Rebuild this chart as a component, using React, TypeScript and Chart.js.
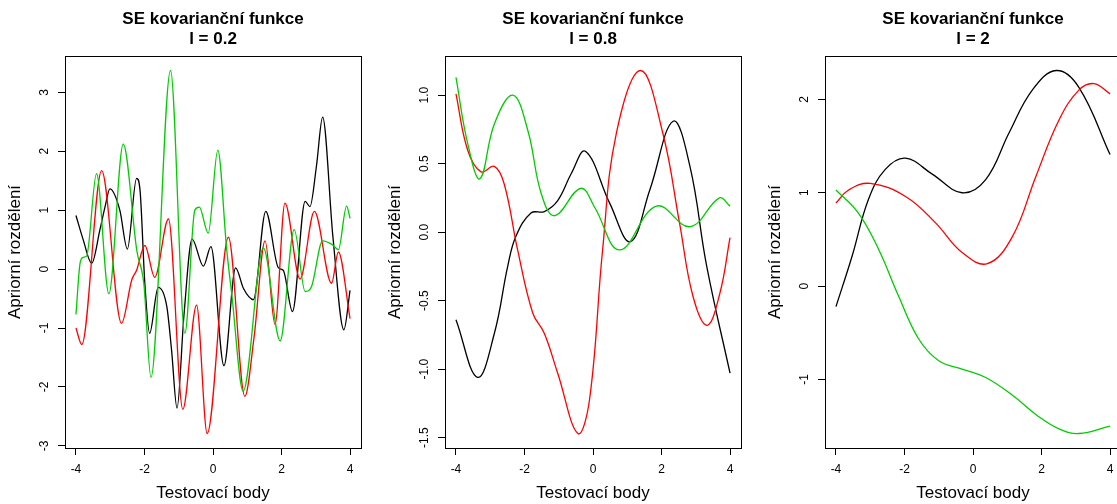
import React, { useEffect, useRef } from "react";
import { Chart, registerables } from "chart.js";

Chart.register(...registerables);

const FONT = "'Liberation Sans', Arial, Helvetica, sans-serif";
const TITLE_MAIN = "SE kovarianční funkce";
const X_TITLE = "Testovací body";
const Y_TITLE = "Apriorní rozdělení";
const X_TICKS = [-4, -2, 0, 2, 4];
const COL_BLACK = "#000000";
const COL_RED = "#FF0000";
const COL_GREEN = "#00CD00";

// ---- Panel 1: l = 0.2 ----
const P1_LABEL = "l = 0.2";
const P1_Y_TICKS = [-3, -2, -1, 0, 1, 2, 3];
const P1_BLACK_X = [-4.0, -3.79, -3.54, -3.3, -3.15, -3.01, -2.72, -2.5, -2.23, -2.13, -1.99, -1.85, -1.6, -1.35, -1.21, -1.05, -0.85, -0.61, -0.28, -0.06, 0.32, 0.66, 0.89, 1.18, 1.54, 1.91, 2.05, 2.32, 2.69, 2.83, 3.02, 3.2, 3.5, 3.82, 4.0];
const P1_BLACK_Y = [0.91, 0.5, 0.1, 0.67, 1.06, 1.36, 1.0, 0.34, 1.54, 1.34, -0.24, -1.09, -0.31, -0.63, -1.37, -2.36, -0.8, 0.51, 0.05, 0.38, -1.64, 0.02, -0.33, -0.52, 0.98, 0.02, -0.02, -0.72, 1.15, 1.06, 1.75, 2.58, 0.55, -1.03, -0.36];
const P1_RED_X = [-4.0, -3.83, -3.25, -2.67, -2.37, -2.23, -1.99, -1.7, -1.3, -0.88, -0.48, -0.17, 0.45, 0.93, 1.2, 1.52, 1.81, 2.1, 2.54, 2.96, 3.46, 3.66, 4.0];
const P1_RED_Y = [-1.0, -1.28, 1.67, -0.92, -0.18, -0.02, 0.4, -0.14, 0.85, -2.38, -0.61, -2.79, 0.54, -2.16, -1.15, 0.48, -0.94, 1.12, -0.17, 0.98, -0.24, 0.29, -0.84];
const P1_GREEN_X = [-4.0, -3.88, -3.79, -3.69, -3.4, -3.04, -2.62, -2.22, -2.02, -1.81, -1.24, -0.82, -0.53, -0.4, -0.14, 0.14, 0.4, 0.55, 0.88, 1.47, 1.96, 2.37, 2.69, 2.88, 3.2, 3.47, 3.66, 3.9, 4.0];
const P1_GREEN_Y = [-0.77, 0.1, 0.2, 0.22, 1.62, -0.42, 2.12, 0.3, -0.24, -1.84, 3.37, -1.09, 1.0, 1.05, 0.61, 2.02, 0.33, -0.44, -2.07, 0.36, -1.22, 0.67, -0.38, -0.29, 0.48, 0.42, 0.33, 1.07, 0.86];

// ---- Panel 2: l = 0.8 ----
const P2_LABEL = "l = 0.8";
const P2_Y_TICKS = [-1.5, -1.0, -0.5, 0.0, 0.5, 1.0];
const P2_BLACK_X = [-4.0, -3.37, -2.88, -2.49, -2.25, -1.81, -1.42, -1.03, -0.63, -0.22, 0.49, 1.09, 1.66, 2.34, 2.83, 3.32, 4.0];
const P2_BLACK_Y = [-0.64, -1.06, -0.74, -0.25, -0.03, 0.14, 0.15, 0.23, 0.43, 0.59, 0.21, -0.07, 0.31, 0.81, 0.48, -0.25, -1.03];
const P2_RED_X = [-4.0, -3.66, -3.27, -2.88, -2.59, -2.2, -1.76, -1.42, -1.03, -0.44, -0.1, 0.28, 0.68, 1.39, 2.04, 2.53, 2.92, 3.33, 3.7, 4.0];
const P2_RED_Y = [1.01, 0.6, 0.44, 0.48, 0.35, -0.13, -0.59, -0.74, -1.03, -1.47, -1.22, -0.13, 0.72, 1.18, 0.72, 0.06, -0.47, -0.68, -0.45, -0.04];
const P2_GREEN_X = [-4.0, -3.66, -3.3, -2.88, -2.34, -1.9, -1.51, -1.12, -0.36, 0.05, 0.78, 1.85, 2.83, 3.69, 4.0];
const P2_GREEN_Y = [1.13, 0.65, 0.39, 0.79, 1.0, 0.74, 0.28, 0.12, 0.32, 0.18, -0.13, 0.19, 0.04, 0.25, 0.19];

// ---- Panel 3: l = 2 ----
const P3_LABEL = "l = 2";
const P3_Y_TICKS = [-1, 0, 1, 2];
const P3_BLACK_X = [-4.0, -3.53, -3.05, -2.56, -1.97, -1.19, -0.32, 0.37, 1.05, 1.73, 2.43, 3.09, 4.0];
const P3_BLACK_Y = [-0.22, 0.32, 0.93, 1.25, 1.37, 1.2, 1.0, 1.14, 1.64, 2.1, 2.31, 2.13, 1.41];
const P3_RED_X = [-4.0, -3.63, -3.0, -1.97, -1.1, -0.32, 0.42, 1.15, 1.83, 2.51, 3.09, 3.53, 4.0];
const P3_RED_Y = [0.89, 1.03, 1.1, 0.96, 0.68, 0.36, 0.24, 0.53, 1.17, 1.78, 2.1, 2.17, 2.06];
const P3_GREEN_X = [-4.0, -3.34, -2.75, -2.17, -1.58, -1.0, -0.32, 0.37, 1.15, 1.92, 2.51, 3.09, 4.0];
const P3_GREEN_Y = [1.03, 0.78, 0.39, -0.11, -0.57, -0.8, -0.89, -0.98, -1.17, -1.4, -1.53, -1.58, -1.5];

type Series = { xs: number[]; ys: number[]; color: string; order: number };
type PanelCfg = { label: string; yTicks: number[]; decimals: number; smooth: "monotone" | "default"; series: Series[] };

const PANELS: PanelCfg[] = [
  {
    label: P1_LABEL, yTicks: P1_Y_TICKS, decimals: 0, smooth: "monotone",
    series: [
      { xs: P1_BLACK_X, ys: P1_BLACK_Y, color: COL_BLACK, order: 2 },
      { xs: P1_RED_X, ys: P1_RED_Y, color: COL_RED, order: 1 },
      { xs: P1_GREEN_X, ys: P1_GREEN_Y, color: COL_GREEN, order: 0 },
    ],
  },
  {
    label: P2_LABEL, yTicks: P2_Y_TICKS, decimals: 1, smooth: "default",
    series: [
      { xs: P2_BLACK_X, ys: P2_BLACK_Y, color: COL_BLACK, order: 2 },
      { xs: P2_RED_X, ys: P2_RED_Y, color: COL_RED, order: 1 },
      { xs: P2_GREEN_X, ys: P2_GREEN_Y, color: COL_GREEN, order: 0 },
    ],
  },
  {
    label: P3_LABEL, yTicks: P3_Y_TICKS, decimals: 0, smooth: "default",
    series: [
      { xs: P3_BLACK_X, ys: P3_BLACK_Y, color: COL_BLACK, order: 2 },
      { xs: P3_RED_X, ys: P3_RED_Y, color: COL_RED, order: 1 },
      { xs: P3_GREEN_X, ys: P3_GREEN_Y, color: COL_GREEN, order: 0 },
    ],
  },
];

const CANVAS_W = 380;
const CANVAS_H = 504;

const boxPlugin = {
  id: "rbox",
  afterDraw(chart: any) {
    const { ctx, chartArea: a } = chart;
    ctx.save();
    ctx.strokeStyle = "#000";
    ctx.lineWidth = 1;
    ctx.strokeRect(a.left + 0.5, a.top + 0.5, a.right - a.left, a.bottom - a.top);
    ctx.restore();
  },
};

function expand(vals: number[]): [number, number] {
  const mn = Math.min(...vals);
  const mx = Math.max(...vals);
  const d = (mx - mn) * 0.04;
  return [mn - d, mx + d];
}

function Panel({ cfg }: { cfg: PanelCfg }) {
  const ref = useRef<HTMLCanvasElement | null>(null);
  useEffect(() => {
    if (!ref.current) return;
    const allX = cfg.series.flatMap((s) => s.xs);
    const allY = cfg.series.flatMap((s) => s.ys);
    const [xmin, xmax] = expand(allX);
    const [ymin, ymax] = expand(allY);
    const fmt = (v: number) => Number(v).toFixed(cfg.decimals);

    const mc = document.createElement("canvas").getContext("2d")!;
    mc.font = `12px ${FONT}`;
    const widest = Math.max(...cfg.yTicks.map((v) => mc.measureText(fmt(v)).width));
    const yPad = 13 - widest / 2;

    const tickGrid = {
      display: true,
      drawOnChartArea: false,
      drawTicks: true,
      tickLength: 7,
      tickColor: "#000",
      tickWidth: 1,
    };

    const chart = new Chart(ref.current, {
      type: "line",
      data: {
        datasets: cfg.series.map((s) => ({
          data: s.xs.map((x, i) => ({ x, y: s.ys[i] })),
          borderColor: s.color,
          backgroundColor: s.color,
          borderWidth: 1.3,
          pointRadius: 0,
          fill: false,
          cubicInterpolationMode: cfg.smooth,
          tension: 0.4,
          order: s.order,
        })),
      },
      options: {
        animation: false,
        responsive: false,
        events: [],
        layout: { padding: { left: 0, right: 19, top: 0, bottom: 0 } },
        plugins: {
          legend: { display: false },
          tooltip: { enabled: false },
          title: {
            display: true,
            text: [TITLE_MAIN, cfg.label],
            color: "#000",
            fullSize: false,
            font: { family: FONT, size: 17, weight: "bold", lineHeight: 20 / 17 },
            padding: { top: 9, bottom: 7 },
          },
        },
        scales: {
          x: {
            type: "linear",
            min: xmin,
            max: xmax,
            afterBuildTicks: (s: any) => {
              s.ticks = X_TICKS.map((v) => ({ value: v }));
            },
            afterFit: (s: any) => {
              s.height = 56;
            },
            ticks: {
              autoSkip: false,
              minRotation: 0,
              maxRotation: 0,
              padding: 7,
              color: "#000",
              font: { family: FONT, size: 12 },
              callback: (v: any) => String(v),
            },
            grid: tickGrid,
            border: { display: false },
            title: {
              display: true,
              text: X_TITLE,
              color: "#000",
              font: { family: FONT, size: 17, lineHeight: 1.2 },
              padding: { top: 0, bottom: 0 },
            },
          },
          y: {
            type: "linear",
            min: ymin,
            max: ymax,
            afterBuildTicks: (s: any) => {
              s.ticks = cfg.yTicks.map((v) => ({ value: v }));
            },
            afterFit: (s: any) => {
              s.width = 65;
            },
            ticks: {
              autoSkip: false,
              minRotation: 90,
              maxRotation: 90,
              crossAlign: "center",
              padding: yPad,
              color: "#000",
              font: { family: FONT, size: 12 },
              callback: (v: any) => fmt(v),
            },
            grid: tickGrid,
            border: { display: false },
            title: {
              display: true,
              text: Y_TITLE,
              color: "#000",
              font: { family: FONT, size: 17, lineHeight: 1.2 },
              padding: { top: 5.4, bottom: 0 },
            },
          },
        },
      },
      plugins: [boxPlugin],
    } as any);
    return () => chart.destroy();
  }, [cfg]);
  return <canvas ref={ref} width={CANVAS_W} height={CANVAS_H} style={{ display: "block", width: CANVAS_W, height: CANVAS_H }} />;
}

export default function App() {
  return (
    <div
      style={{
        position: "fixed",
        left: 0,
        top: 0,
        width: 1117,
        height: 504,
        overflow: "hidden",
        background: "#fff",
      }}
    >
      {PANELS.map((p, i) => (
        <div key={i} style={{ position: "absolute", left: i * CANVAS_W, top: 0, width: CANVAS_W, height: CANVAS_H }}>
          <Panel cfg={p} />
        </div>
      ))}
    </div>
  );
}
